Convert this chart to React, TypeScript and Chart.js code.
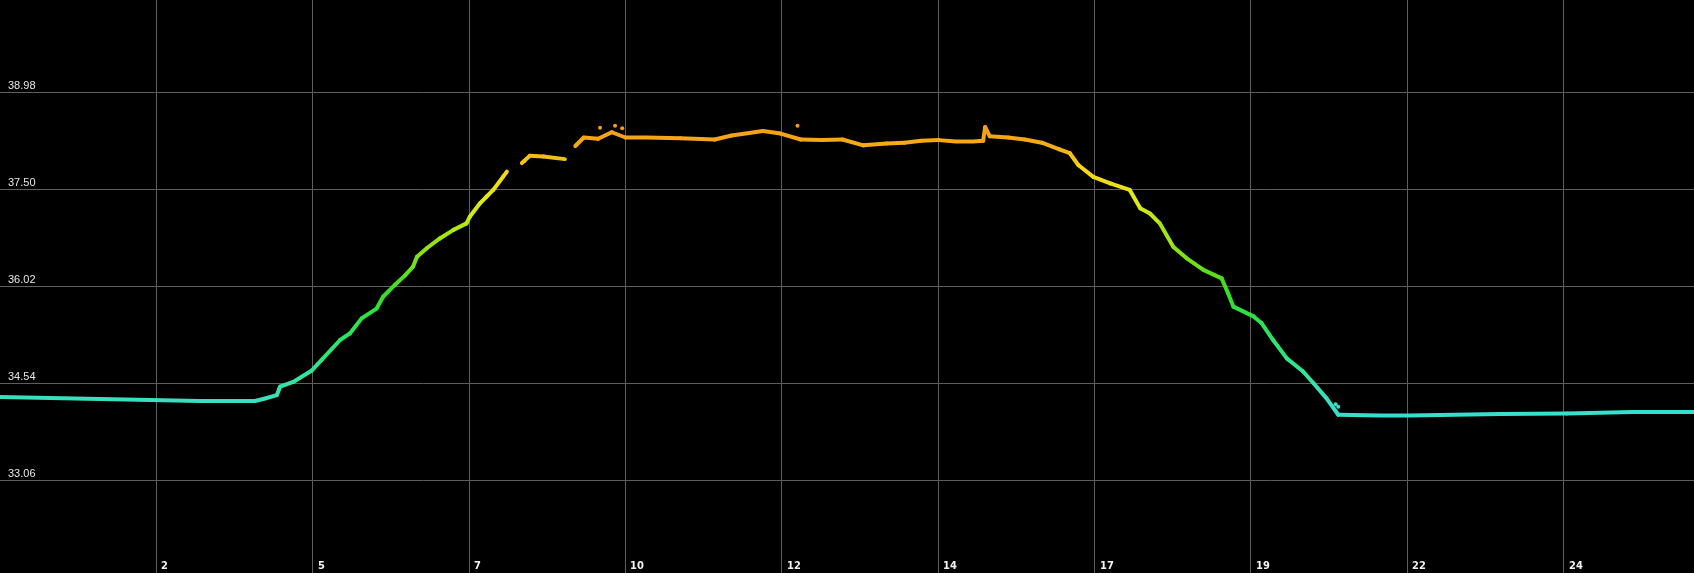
import React, { useEffect, useRef } from "react";
import { Chart, registerables } from "chart.js";

Chart.register(...registerables);

const hours: (number)[] = [
  0, 1.54, 3.07, 3.91, 4.04, 4.25, 4.30, 4.50, 4.78, 4.94, 5.22, 5.37, 5.55, 5.78, 5.88,
  6.06, 6.22, 6.34, 6.40, 6.55, 6.75, 6.96, 7.16, 7.21, 7.37, 7.47, 7.57, 7.72, 7.78,
  7.90,
  8.01, 8.13, 8.34, 8.67,
  8.75,
  8.83, 8.96, 9.18, 9.39, 9.60, 9.92, 10.44, 10.97, 11.23, 11.71, 11.98, 12.29, 12.61,
  12.93, 13.25, 13.61, 13.88, 14.14, 14.41, 14.67, 14.94, 15.09, 15.12, 15.19, 15.47,
  15.73, 15.99, 16.26, 16.42, 16.55, 16.78, 17.04, 17.34, 17.50, 17.65, 17.80, 18.01,
  18.21, 18.47, 18.75, 18.85, 18.93, 19.24, 19.36, 19.54, 19.75, 20.00, 20.16, 20.36,
  20.54, 21.18, 21.64, 23.02, 24.05, 25.06, 26.0,
];
const values: (number | null)[] = [
  34.33, 34.30, 34.27, 34.27, 34.30, 34.36, 34.49, 34.56, 34.73, 34.90, 35.20, 35.30, 35.53, 35.68, 35.86,
  36.04, 36.19, 36.32, 36.47, 36.60, 36.75, 36.88, 36.98, 37.08, 37.29, 37.39, 37.49, 37.69, 37.77,
  null,
  37.90, 38.01, 38.00, 37.96,
  null,
  38.16, 38.29, 38.27, 38.37, 38.29, 38.29, 38.28, 38.26, 38.32, 38.39, 38.35, 38.26, 38.25,
  38.26, 38.17, 38.20, 38.21, 38.24, 38.25, 38.23, 38.23, 38.24, 38.45, 38.31, 38.29,
  38.26, 38.21, 38.11, 38.05, 37.87, 37.69, 37.59, 37.49, 37.21, 37.13, 36.98, 36.62,
  36.45, 36.27, 36.14, 35.91, 35.71, 35.56, 35.46, 35.20, 34.92, 34.72, 34.54, 34.31,
  34.06, 34.05, 34.05, 34.07, 34.08, 34.10, 34.10,
];

// Stray readings
const strayHours = [4.28, 8.05, 9.21, 9.44, 9.55, 12.24, 20.54, 20.50];
const strayValues = [34.45, 37.93, 38.44, 38.47, 38.43, 38.47, 34.18, 34.22];

const xTickValues = [2.4, 4.8, 7.2, 9.6, 12.0, 14.4, 16.8, 19.2, 21.6, 24.0];
const xTickLabels = ["2", "5", "7", "10", "12", "14", "17", "19", "22", "24"];
const yTickValues = [33.06, 34.54, 36.02, 37.5, 38.98];

const X_MIN = 0;
const X_MAX = 26;
const Y_MIN = 31.645;
const Y_MAX = 40.388;

const colorStops: [number, number[]][] = [
  [34.0, [55, 222, 212]],
  [34.5, [55, 226, 175]],
  [35.2, [40, 230, 100]],
  [35.9, [50, 222, 35]],
  [36.6, [140, 226, 20]],
  [37.3, [222, 236, 20]],
  [37.8, [246, 214, 20]],
  [38.1, [246, 176, 22]],
  [38.4, [246, 158, 22]],
];

function colorAt(v: number): string {
  if (v <= colorStops[0][0]) return `rgb(${colorStops[0][1].join(",")})`;
  for (let i = 1; i < colorStops.length; i++) {
    const [v1, c1] = colorStops[i];
    const [v0, c0] = colorStops[i - 1];
    if (v <= v1) {
      const t = (v - v0) / (v1 - v0);
      const c = c0.map((a, k) => Math.round(a + (c1[k] - a) * t));
      return `rgb(${c.join(",")})`;
    }
  }
  return `rgb(${colorStops[colorStops.length - 1][1].join(",")})`;
}

const GRID = "#5e5e5e";

const xLabelPlugin = {
  id: "xLabels",
  afterDraw(chart: any) {
    const ctx = chart.ctx;
    const xs = chart.scales.x;
    ctx.save();
    ctx.fillStyle = "#f2f2f2";
    ctx.font = 'bold 11px "Liberation Sans Narrow", "DejaVu Sans Condensed", "Liberation Sans", sans-serif';
    ctx.textAlign = "left";
    ctx.textBaseline = "bottom";
    xTickValues.forEach((v, i) => {
      const px = xs.getPixelForValue(v);
      ctx.fillText(xTickLabels[i], Math.round(px) + 5, chart.height - 1);
    });
    ctx.restore();
  },
};

const bgPlugin = {
  id: "bg",
  beforeDraw(chart: any) {
    const ctx = chart.ctx;
    ctx.save();
    ctx.fillStyle = "#000";
    ctx.fillRect(0, 0, chart.width, chart.height);
    ctx.restore();
  },
};

export default function App() {
  const ref = useRef<HTMLCanvasElement>(null);

  useEffect(() => {
    document.body.style.margin = "0";
    document.body.style.background = "#000";
    document.body.style.overflow = "hidden";
    const canvas = ref.current!;
    const chart = new Chart(canvas, {
      type: "line",
      data: {
        datasets: [
          {
            data: hours.map((h, i) => ({ x: h, y: values[i] })) as any,
            borderWidth: 4,
            borderColor: colorAt(36),
            borderCapStyle: "round",
            borderJoinStyle: "round",
            pointRadius: 0,
            spanGaps: false,
            tension: 0,
            segment: {
              borderColor: (c: any) => colorAt((c.p0.parsed.y + c.p1.parsed.y) / 2),
            },
          } as any,
          {
            type: "scatter",
            data: strayHours.map((h, i) => ({ x: h, y: strayValues[i] })),
            pointRadius: 2,
            pointBorderWidth: 0,
            pointBackgroundColor: (c: any) => colorAt(c.parsed ? c.parsed.y : 36),
            showLine: false,
          } as any,
        ],
      },
      options: {
        animation: false,
        responsive: false,
        layout: { padding: 0, autoPadding: false },
        plugins: { legend: { display: false }, tooltip: { enabled: false }, title: { display: false } },
        scales: {
          x: {
            type: "linear",
            min: X_MIN,
            max: X_MAX,
            afterBuildTicks: (s: any) => {
              s.ticks = xTickValues.map((v) => ({ value: v }));
            },
            afterFit: (s: any) => {
              s.height = 0;
              s.paddingLeft = 0;
              s.paddingRight = 0;
              s.paddingTop = 0;
              s.paddingBottom = 0;
            },
            ticks: { display: false },
            grid: { color: GRID, lineWidth: 1, drawTicks: false },
            border: { display: false },
          },
          y: {
            type: "linear",
            position: "left",
            min: Y_MIN,
            max: Y_MAX,
            afterBuildTicks: (s: any) => {
              s.ticks = yTickValues.map((v) => ({ value: v }));
            },
            afterFit: (s: any) => {
              s.width = 0;
              s.paddingTop = 0;
              s.paddingBottom = 0;
              s.paddingLeft = 0;
              s.paddingRight = 0;
            },
            ticks: {
              mirror: true,
              padding: 8,
              labelOffset: -6,
              color: "#e6e6e6",
              autoSkip: false,
              font: { family: '"Liberation Sans", Arial, sans-serif', size: 11 },
              callback: (v: any) => Number(v).toFixed(2),
            },
            grid: { color: GRID, lineWidth: 1, drawTicks: false },
            border: { display: false },
          },
        },
      },
      plugins: [bgPlugin, xLabelPlugin],
    });
    return () => chart.destroy();
  }, []);

  return (
    <canvas
      ref={ref}
      width={1694}
      height={573}
      style={{ display: "block", width: 1694, height: 573, background: "#000" }}
    />
  );
}
